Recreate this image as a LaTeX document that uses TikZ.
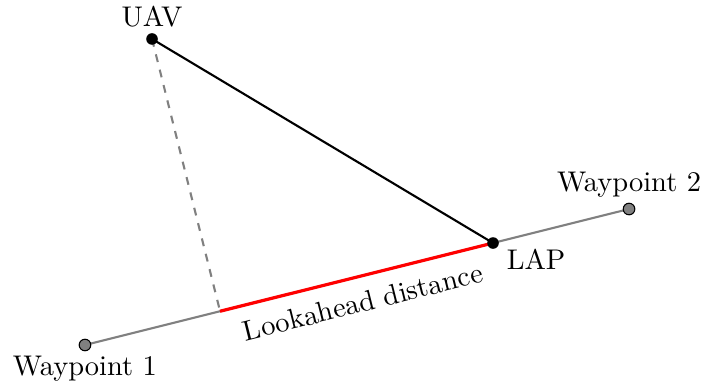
\documentclass[tikz,border=0pt]{standalone}
\usepackage{tikz}
\usetikzlibrary{calc, positioning}

\begin{document}
\begin{tikzpicture}[
        every node/.style={font=\fontsize{10.8}{13}\selectfont},
        wpdot/.style={circle, draw=black, fill=gray, inner sep=0pt, minimum size=4.4pt},
        bdot/.style={circle, fill=black, inner sep=0pt, minimum size=4.4pt},
        path/.style={gray, thick},
        los/.style={black, thick},
        perp/.style={gray, thick, dashed},
        dist/.style={red, very thick}
    ]
        \useasboundingbox (0,0) rectangle (9.36,5.12);
        \coordinate (w1) at (1.133,0.52);
        \coordinate (w2) at (8.387,2.333);
        \coordinate (uav) at (2.027,4.6);
        \coordinate (foot) at ($(w1)!(uav)!(w2)$);
        \coordinate (lap) at ($(w1)!0.75!(w2)$);
        \draw[path] (w1) -- (w2);
        \draw[perp] (uav) -- (foot);
        \draw[dist] (foot) -- node[below=2pt, sloped, black] {Lookahead distance} (lap);
        \draw[los] (uav) -- (lap);
        \node[wpdot, label={[label distance=-1.6pt]below:Waypoint 1}] (wp1) at (w1) {};
        \node[wpdot, label={[label distance=-1.6pt]above:Waypoint 2}] (wp2) at (w2) {};
        \node[bdot, label={[label distance=-1.6pt]above:UAV}] (u) at (uav) {};
        \node[bdot, label={[yshift=3pt]below right:LAP}] (l) at (lap) {};
    \end{tikzpicture}
\end{document}
